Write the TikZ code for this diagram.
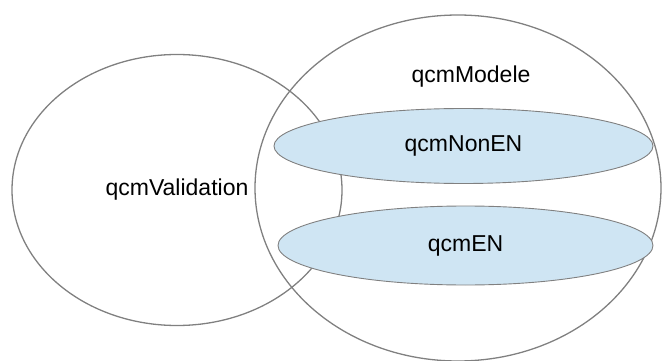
\documentclass[tikz,border=0pt]{standalone}
\usepackage{fontspec}
\setmainfont{Liberation Sans}
\usetikzlibrary{shapes.geometric}

\definecolor{setline}{HTML}{808080}
\definecolor{subfill}{HTML}{CFE5F3}

\begin{document}
\begin{tikzpicture}[x=1pt,y=-1pt,
		bigset/.style={ellipse, draw=setline, line width=1.3pt, inner sep=0pt},
		subset/.style={ellipse, draw=setline, fill=subfill, line width=0.9pt, inner sep=0pt},
		lbl/.style={font=\fontsize{23}{26}\selectfont}]
		\useasboundingbox (0,0) rectangle (662,361);
		
		% outer sets
		\node[bigset, lbl, minimum width=330pt, minimum height=271pt] (validation) at (177,190) {qcmValidation};
		\node[bigset, minimum width=406pt, minimum height=346pt] (modele) at (458,188) {};
		\node[lbl] (modeletxt) at (471,77) {qcmModele};
		
		% inner sets
		\node[subset, lbl, minimum width=379pt, minimum height=75pt] (nonen) at (463.5,146) {qcmNonEN};
		\node[subset, lbl, minimum width=375pt, minimum height=79pt] (en) at (465.5,245.5) {qcmEN};
	\end{tikzpicture}
\end{document}
